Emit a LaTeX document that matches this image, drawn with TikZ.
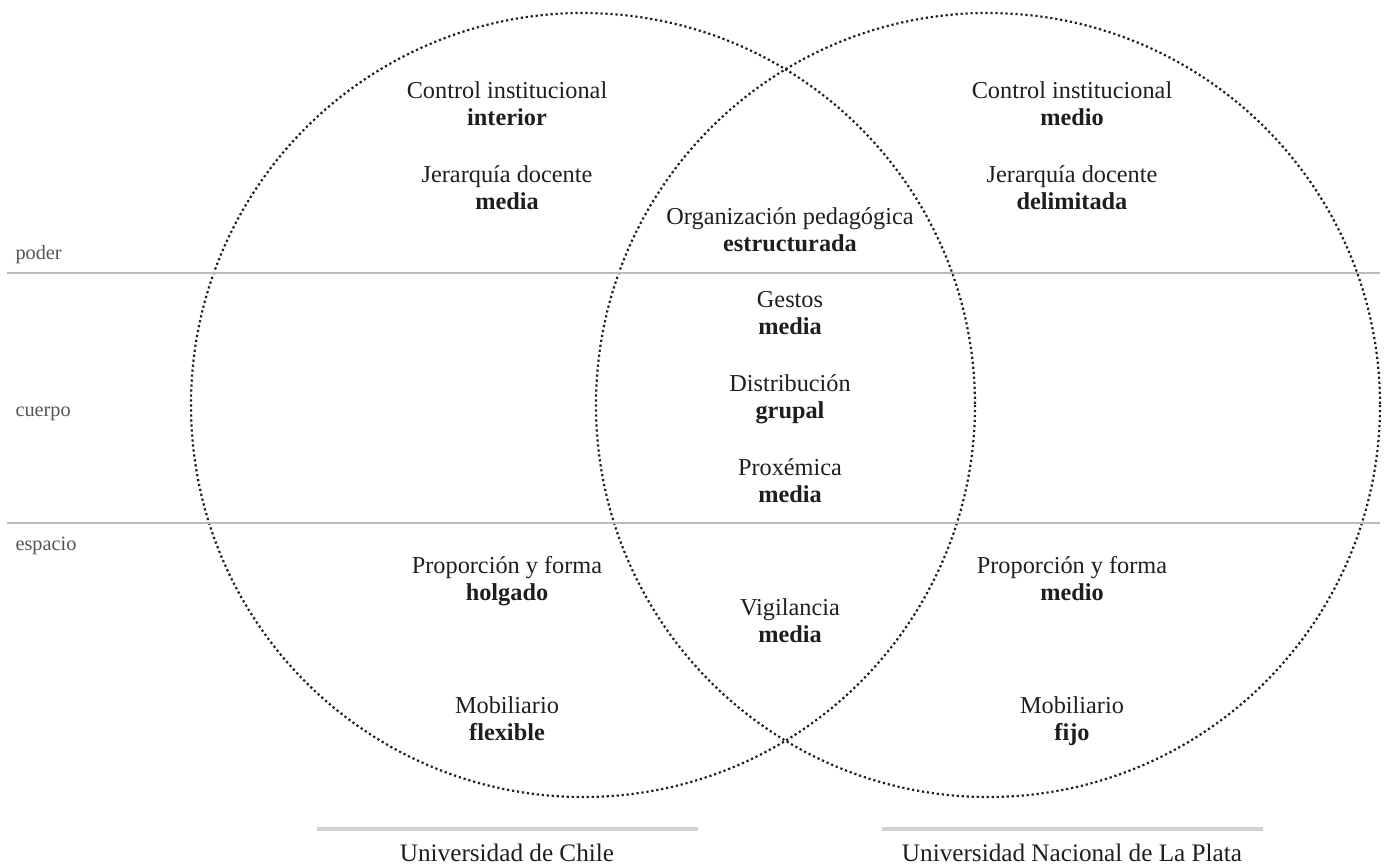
\documentclass[tikz,border=0pt]{standalone}
\usepackage{fontspec}
\setmainfont{Liberation Serif}
\usepackage{tikz}
\usepackage{xcolor}

\definecolor{inkdark}{HTML}{1E1E1E}
\definecolor{labelgray}{HTML}{555555}
\definecolor{rulegray}{HTML}{BBBBBB}
\definecolor{bargray}{HTML}{D2D2D2}

\begin{document}
\begin{tikzpicture}[x=1pt,y=-1pt,
        item/.style={align=center,anchor=base,text=inkdark,font=\fontsize{24.3}{27}\selectfont},
        side/.style={anchor=base west,text=labelgray,font=\fontsize{20.3}{22}\selectfont},
        uni/.style={anchor=base,text=inkdark,font=\fontsize{25.2}{28}\selectfont},
        ring/.style={draw=inkdark,line width=2.2pt,dash pattern=on 2.2pt off 2.8pt},
        band/.style={draw=rulegray,line width=1.6pt},
        underbar/.style={draw=bargray,line width=3.5pt}]
        \useasboundingbox (0,0) rectangle (1385,867);

        % two sets
        \coordinate(chile) at (583,405);
        \coordinate(plata) at (988,405);
        \draw[ring] (chile) circle[radius=392];
        \draw[ring] (plata) circle[radius=392];

        % bands
        \draw[band] (7,273) -- (1380,273);
        \draw[band] (7,523) -- (1380,523);
        \node[side](poder) at (12,259) {poder};
        \node[side](cuerpo) at (12,416) {cuerpo};
        \node[side](espacio) at (12,550) {espacio};

        % Universidad de Chile
        \node[item](chCtrl) at (507,125) {Control institucional\\\textbf{interior}};
        \node[item](chJer) at (507,209) {Jerarquía docente\\\textbf{media}};
        \node[item](chProp) at (507,600) {Proporción y forma\\\textbf{holgado}};
        \node[item](chMob) at (507,740) {Mobiliario\\\textbf{flexible}};

        % shared
        \node[item](midOrg) at (790,251) {Organización pedagógica\\\textbf{estructurada}};
        \node[item](midGes) at (790,334) {Gestos\\\textbf{media}};
        \node[item](midDist) at (790,418) {Distribución\\\textbf{grupal}};
        \node[item](midProx) at (790,502) {Proxémica\\\textbf{media}};
        \node[item](midVig) at (790,642) {Vigilancia\\\textbf{media}};

        % Universidad Nacional de La Plata
        \node[item](lpCtrl) at (1072,125) {Control institucional\\\textbf{medio}};
        \node[item](lpJer) at (1072,209) {Jerarquía docente\\\textbf{delimitada}};
        \node[item](lpProp) at (1072,600) {Proporción y forma\\\textbf{medio}};
        \node[item](lpMob) at (1072,740) {Mobiliario\\\textbf{fijo}};

        % captions
        \draw[underbar] (317,829) -- (698,829);
        \draw[underbar] (882,829) -- (1263,829);
        \node[uni](chName) at (507,861) {Universidad de Chile};
        \node[uni](lpName) at (1072,861) {Universidad Nacional de La Plata};
        \end{tikzpicture}
\end{document}
